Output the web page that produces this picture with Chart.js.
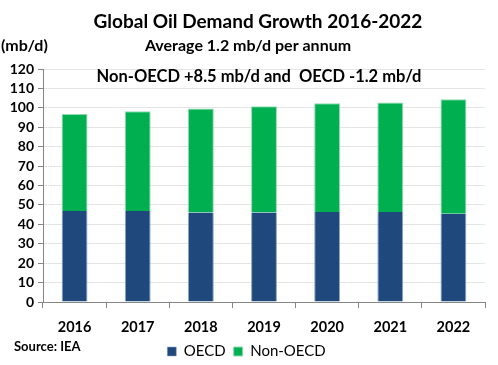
<!DOCTYPE html>
<html>
<head>
<meta charset="utf-8">
<script src="https://cdn.jsdelivr.net/npm/chart.js@4"></script>
<style>
  html, body { margin: 0; padding: 0; background: #fff; }
  #wrap { width: 498px; height: 365px; position: relative; }
</style>
</head>
<body>
<div id="wrap"><canvas id="demand-chart"></canvas></div>
<script>
// Chart data (mb/d)
const years = ['2016', '2017', '2018', '2019', '2020', '2021', '2022'];
const oecd = [46.9, 46.9, 46.1, 46.1, 46.3, 46.3, 45.4];
const nonOecd = [49.9, 51.4, 53.6, 54.7, 56.0, 56.5, 59.0];
const yTicks = [0, 10, 20, 30, 40, 50, 60, 70, 80, 90, 100, 110, 120];

const titleText = 'Global Oil Demand Growth 2016-2022';
const subtitleText = 'Average 1.2 mb/d per annum';
const noteText = 'Non-OECD +8.5 mb/d and  OECD -1.2 mb/d';
const unitText = '(mb/d)';
const sourceText = 'Source: IEA';

const FONT = 'Lato, "Open Sans", sans-serif';

// Extra text drawn on top of the chart
const annotations = {
    id: 'annotations',
    afterDraw(chart) {
        const c = chart.ctx;
        c.save();
        c.fillStyle = '#000';
        c.textBaseline = 'middle';

        c.font = 'bold 19px ' + FONT;
        c.textAlign = 'center';
        c.fillText(titleText, 258, 22);

        c.font = 'bold 16px ' + FONT;
        c.fillText(subtitleText, 248, 46);
        c.font = 'bold 16.5px ' + FONT;
        c.fillText(noteText, 259, 77);

        c.textAlign = 'left';
        c.font = 'bold 16px ' + FONT;
        c.fillText(unitText, 1, 46);

        c.font = 'bold 13px ' + FONT;
        c.fillText(sourceText, 14, 347);
        c.restore();
    }
};

const ctx = document.getElementById('demand-chart').getContext('2d');
new Chart(ctx, {
    type: 'bar',
    data: {
        labels: years,
        datasets: [
            {
                label: 'OECD',
                data: oecd,
                backgroundColor: '#1F497D',
                borderColor: '#8EA7C6',
                borderWidth: { left: 1, right: 1, top: 0, bottom: 0 },
                barPercentage: 0.41,
                categoryPercentage: 1.0
            },
            {
                label: 'Non-OECD',
                data: nonOecd,
                backgroundColor: '#00B050',
                borderColor: '#8FD9AE',
                borderWidth: 1,
                barPercentage: 0.41,
                categoryPercentage: 1.0
            }
        ]
    },
    options: {
        responsive: true,
        maintainAspectRatio: false,
        animation: false,
        layout: { padding: { top: 69, right: 13, left: 8, bottom: -4 } },
        scales: {
            x: {
                stacked: true,
                offset: true,
                afterFit: axis => { axis.height = 34; },
                grid: {
                    offset: true,
                    drawOnChartArea: false,
                    drawTicks: true,
                    tickLength: 6,
                    tickColor: '#868686'
                },
                border: { color: '#868686' },
                ticks: {
                    color: '#000',
                    padding: 11,
                    font: { family: FONT, size: 14.5, weight: 'bold' }
                }
            },
            y: {
                stacked: true,
                min: 0,
                max: 120,
                afterBuildTicks: axis => { axis.ticks = yTicks.map(v => ({ value: v })); },
                afterFit: axis => { axis.width = 35; },
                grid: {
                    color: '#E4E4E4',
                    tickColor: '#868686',
                    tickLength: 5
                },
                border: { color: '#868686' },
                ticks: {
                    color: '#000',
                    autoSkip: false,
                    padding: 4,
                    font: { family: FONT, size: 14, weight: 'bold' }
                }
            }
        },
        plugins: {
            legend: {
                position: 'bottom',
                labels: {
                    color: '#000',
                    boxWidth: 9,
                    boxHeight: 9,
                    padding: 8,
                    font: { family: FONT, size: 15 }
                }
            },
            tooltip: { enabled: false }
        }
    },
    plugins: [annotations]
});
</script>
</body>
</html>
